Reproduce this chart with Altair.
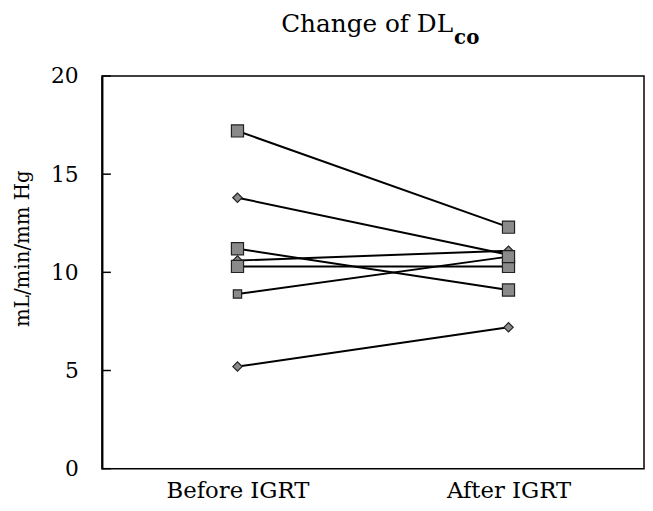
import altair as alt
import pandas as pd

# ---- data ----
subjects = ["A", "B", "C", "D", "E", "F", "G"]
before_vals = [17.2, 13.8, 11.2, 10.6, 10.3, 8.9, 5.2]
after_vals = [12.3, 10.9, 9.1, 11.1, 10.3, 10.8, 7.2]
before_shapes = ["square", "diamond", "square", "diamond", "square", "square", "diamond"]
after_shapes = ["square", "diamond", "square", "diamond", "square", "square", "diamond"]
before_sizes = [150, 90, 150, 90, 150, 70, 90]
after_sizes = [150, 90, 150, 90, 150, 150, 90]
time_labels = ["Before IGRT", "After IGRT"]
y_ticks = [0, 5, 10, 15, 20]

rows = []
for i, s in enumerate(subjects):
    rows.append({"subject": s, "time": time_labels[0], "value": before_vals[i],
                 "shape": before_shapes[i], "size": before_sizes[i]})
    rows.append({"subject": s, "time": time_labels[1], "value": after_vals[i],
                 "shape": after_shapes[i], "size": after_sizes[i]})
df = pd.DataFrame(rows)
ticks_df = pd.DataFrame({"t": y_ticks})

FONT = "DejaVu Serif"

x_enc = alt.X("time:N", sort=time_labels,
              scale=alt.Scale(type="point", padding=0.5),
              axis=alt.Axis(title=None, labelAngle=0, ticks=False, domain=False,
                            labelFont=FONT, labelFontSize=23, labelColor="black",
                            labelPadding=11))
y_enc = alt.Y("value:Q", scale=alt.Scale(domain=[0, 20], nice=False, zero=True),
              axis=alt.Axis(values=y_ticks, ticks=False, grid=False,
                            domainColor="black", domainWidth=2,
                            labelFont=FONT, labelFontSize=22, labelColor="black",
                            labelPadding=24,
                            title="mL/min/mm Hg", titleFont=FONT, titleFontSize=20,
                            titleFontWeight="normal", titleColor="black",
                            titleAngle=-90, titleX=-80, titleY=174,
                            titleAlign="center", titleBaseline="middle"))

lines = alt.Chart(df).mark_line(color="black", strokeWidth=2).encode(
    x=x_enc, y=y_enc, detail="subject:N")

points = alt.Chart(df).mark_point(filled=True, fill="#8a8a8a", stroke="#222222",
                                  strokeWidth=1.2, opacity=1).encode(
    x=alt.X("time:N", sort=time_labels),
    y="value:Q",
    shape=alt.Shape("shape:N", scale=None),
    size=alt.Size("size:Q", scale=None))

tick_marks = alt.Chart(ticks_df).mark_rule(color="black", strokeWidth=1.5).encode(
    y="t:Q", x=alt.value(0), x2=alt.value(9))

title_main = alt.Chart(pd.DataFrame({"t": ["Change of DL"]})).mark_text(
    font=FONT, fontSize=25, align="right", baseline="alphabetic", color="black"
).encode(text="t:N", x=alt.value(355), y=alt.value(-44))

title_sub = alt.Chart(pd.DataFrame({"t": ["co"]})).mark_text(
    font=FONT, fontSize=20, align="left", baseline="alphabetic", color="black",
    fontWeight="bold"
).encode(text="t:N", x=alt.value(356), y=alt.value(-32))

chart = alt.layer(lines, points, tick_marks, title_main, title_sub).properties(
    width=548, height=397,
    padding={"left": 95, "top": 66, "right": 1, "bottom": 35},
    autosize=alt.AutoSizeParams(type="none"),
    background="white",
).configure_view(stroke="black", strokeWidth=1.5)

chart.save("out.html", embed_options={"renderer": "svg", "actions": False})
